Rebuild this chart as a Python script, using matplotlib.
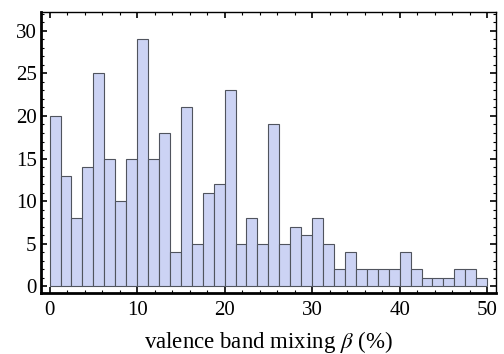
import numpy as np
import matplotlib
matplotlib.use("Agg")
import matplotlib.pyplot as plt
from matplotlib.ticker import MultipleLocator

plt.rcParams['font.family'] = ['Liberation Serif', 'DejaVu Serif']
plt.rcParams['mathtext.fontset'] = 'stix'

# histogram of beta (%), 40 bins over 0..50
bin_edges = np.linspace(0, 50, 41)
counts = [20, 13, 8, 14, 25, 15, 10, 15, 29, 15,
          18, 4, 21, 5, 11, 12, 23, 5, 8, 5,
          19, 5, 7, 6, 8, 5, 2, 4, 2, 2,
          2, 2, 4, 2, 1, 1, 1, 2, 2, 1]
x_ticks = [0, 10, 20, 30, 40, 50]
y_ticks = [0, 5, 10, 15, 20, 25, 30]

fig = plt.figure(figsize=(5.04, 3.54), dpi=100)
ax = fig.add_axes([0.081, 0.172, 0.903, 0.794])

widths = np.diff(bin_edges)
ax.bar(bin_edges[:-1], counts, width=widths, align='edge',
       color='#ccd3f4', edgecolor='#50545e', linewidth=0.8)

ax.set_xlim(-1.0, 51.0)
ax.set_ylim(-0.8, 32.2)
ax.set_xticks(x_ticks)
ax.set_yticks(y_ticks)
ax.xaxis.set_minor_locator(MultipleLocator(2))
ax.yaxis.set_minor_locator(MultipleLocator(1))
ax.tick_params(which='both', direction='in', top=True, right=True,
               labelsize=15, color='black')
ax.tick_params(which='major', length=4, width=1.2)
ax.tick_params(which='minor', length=2, width=0.8)
ax.tick_params(axis='x', pad=6)
ax.tick_params(axis='y', pad=3)

for side in ['left', 'bottom']:
    ax.spines[side].set_linewidth(2.0)
for side in ['top', 'right']:
    ax.spines[side].set_linewidth(1.0)

ax.set_xlabel(r'valence band mixing $\beta$ (%)', fontsize=16.5, labelpad=6)

fig.savefig('out.png', dpi=100)
